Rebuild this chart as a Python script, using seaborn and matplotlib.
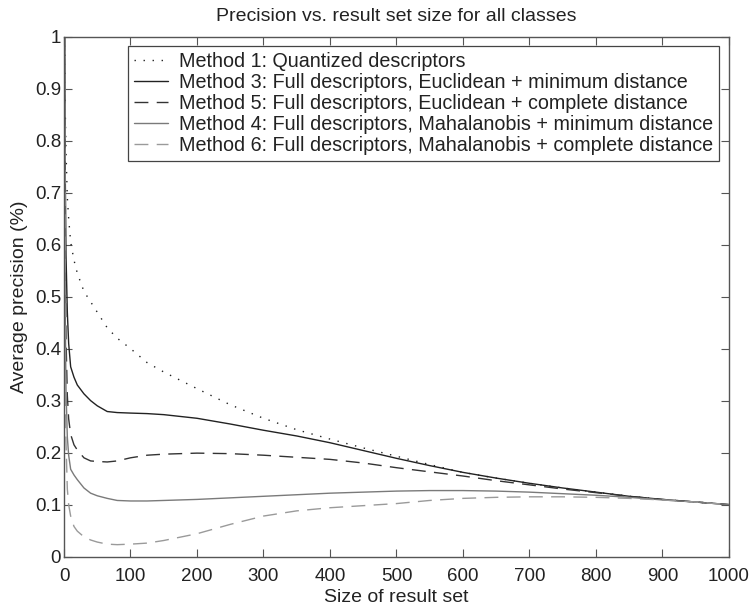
import numpy as np
import pandas as pd
import matplotlib
matplotlib.use("Agg")
import matplotlib.pyplot as plt
from matplotlib.ticker import FuncFormatter, MultipleLocator
import seaborn as sns

# ---- data ----
result_size = [1, 2, 3, 5, 7, 10, 15, 20, 30, 40, 50, 65, 80, 100, 125, 150,
               200, 250, 300, 350, 400, 450, 500, 550, 600, 650, 700, 750,
               800, 850, 900, 950, 1000]

method1 = [1.0, 0.85, 0.78, 0.69, 0.65, 0.605, 0.57, 0.545, 0.51, 0.49, 0.47,
           0.44, 0.42, 0.40, 0.373, 0.355, 0.323, 0.292, 0.266, 0.244, 0.226,
           0.209, 0.193, 0.177, 0.162, 0.151, 0.141, 0.132, 0.124, 0.116,
           0.110, 0.105, 0.100]
method3 = [1.0, 0.72, 0.58, 0.47, 0.41, 0.365, 0.345, 0.33, 0.313, 0.30, 0.29,
           0.279, 0.277, 0.276, 0.275, 0.273, 0.266, 0.255, 0.243, 0.232,
           0.219, 0.204, 0.189, 0.175, 0.162, 0.151, 0.141, 0.132, 0.124,
           0.116, 0.110, 0.105, 0.100]
method5 = [1.0, 0.55, 0.42, 0.31, 0.265, 0.235, 0.215, 0.205, 0.19, 0.184,
           0.183, 0.182, 0.184, 0.19, 0.195, 0.197, 0.199, 0.198, 0.195, 0.191,
           0.187, 0.18, 0.171, 0.163, 0.155, 0.146, 0.138, 0.13, 0.123, 0.116,
           0.110, 0.105, 0.100]
method4 = [1.0, 0.45, 0.32, 0.23, 0.195, 0.168, 0.157, 0.148, 0.132, 0.122,
           0.117, 0.112, 0.108, 0.107, 0.107, 0.108, 0.110, 0.113, 0.116,
           0.119, 0.122, 0.124, 0.126, 0.127, 0.127, 0.126, 0.124, 0.121,
           0.118, 0.114, 0.109, 0.105, 0.100]
method6 = [1.0, 0.35, 0.22, 0.13, 0.10, 0.078, 0.058, 0.049, 0.038, 0.032,
           0.028, 0.024, 0.023, 0.024, 0.026, 0.031, 0.044, 0.062, 0.078,
           0.088, 0.094, 0.098, 0.102, 0.108, 0.112, 0.114, 0.115, 0.115,
           0.114, 0.112, 0.109, 0.105, 0.100]

labels = [
    "Method 1: Quantized descriptors",
    "Method 3: Full descriptors, Euclidean + minimum distance",
    "Method 5: Full descriptors, Euclidean + complete distance",
    "Method 4: Full descriptors, Mahalanobis + minimum distance",
    "Method 6: Full descriptors, Mahalanobis + complete distance",
]
series = [method1, method3, method5, method4, method6]

title = "Precision vs. result set size for all classes"
xlabel = "Size of result set"
ylabel = "Average precision (%)"

# ---- long table ----
df = pd.concat(
    [pd.DataFrame({"size": result_size, "precision": vals, "method": lab})
     for lab, vals in zip(labels, series)],
    ignore_index=True,
)

palette = {
    labels[0]: "#222222",
    labels[1]: "#222222",
    labels[2]: "#333333",
    labels[3]: "#7a7a7a",
    labels[4]: "#9a9a9a",
}
dashes = {
    labels[0]: (1, 5.5),
    labels[1]: "",
    labels[2]: (10, 6),
    labels[3]: "",
    labels[4]: (10, 6),
}

sns.set_theme(style="white")
plt.rcParams["font.family"] = ["Liberation Sans", "DejaVu Sans"]
plt.rcParams["text.color"] = "#222222"

fig = plt.figure(figsize=(7.53, 6.09), dpi=100)
ax = fig.add_axes([0.085, 0.086, 0.883, 0.854])

sns.lineplot(data=df, x="size", y="precision", hue="method", style="method",
             hue_order=labels, style_order=labels, palette=palette,
             dashes=dashes, estimator=None, errorbar=None, linewidth=1.0,
             ax=ax)

ax.set_xlim(0, 1000)
ax.set_ylim(0, 1)
ax.xaxis.set_major_locator(MultipleLocator(100))
ax.yaxis.set_major_locator(MultipleLocator(0.1))
ax.yaxis.set_major_formatter(FuncFormatter(lambda v, p: "%g" % round(v, 2)))

ax.tick_params(direction="in", length=6, width=0.8, colors="#555555",
               labelcolor="#222222", labelsize=13.5, top=True, right=True,
               bottom=True, left=True)
ax.tick_params(axis="x", pad=8)
ax.tick_params(axis="y", pad=2)
for sp in ax.spines.values():
    sp.set_visible(True)
    sp.set_color("#555555")
    sp.set_linewidth(1.0)

ax.set_title(title, fontsize=14, color="#222222", pad=11)
ax.set_xlabel(xlabel, fontsize=14, color="#222222", labelpad=3)
ax.set_ylabel(ylabel, fontsize=14, color="#222222", labelpad=5)

handles, labs = ax.get_legend_handles_labels()
leg = ax.legend(handles, labs, loc="upper right", bbox_to_anchor=(0.985, 0.981),
                fontsize=14.2, frameon=True, fancybox=False, framealpha=1,
                edgecolor="#444444", handlelength=1.75, handletextpad=0.55,
                labelspacing=0.1, borderpad=0.3, borderaxespad=0.0)
leg.get_frame().set_linewidth(0.9)

fig.savefig("out.png", dpi=100)
